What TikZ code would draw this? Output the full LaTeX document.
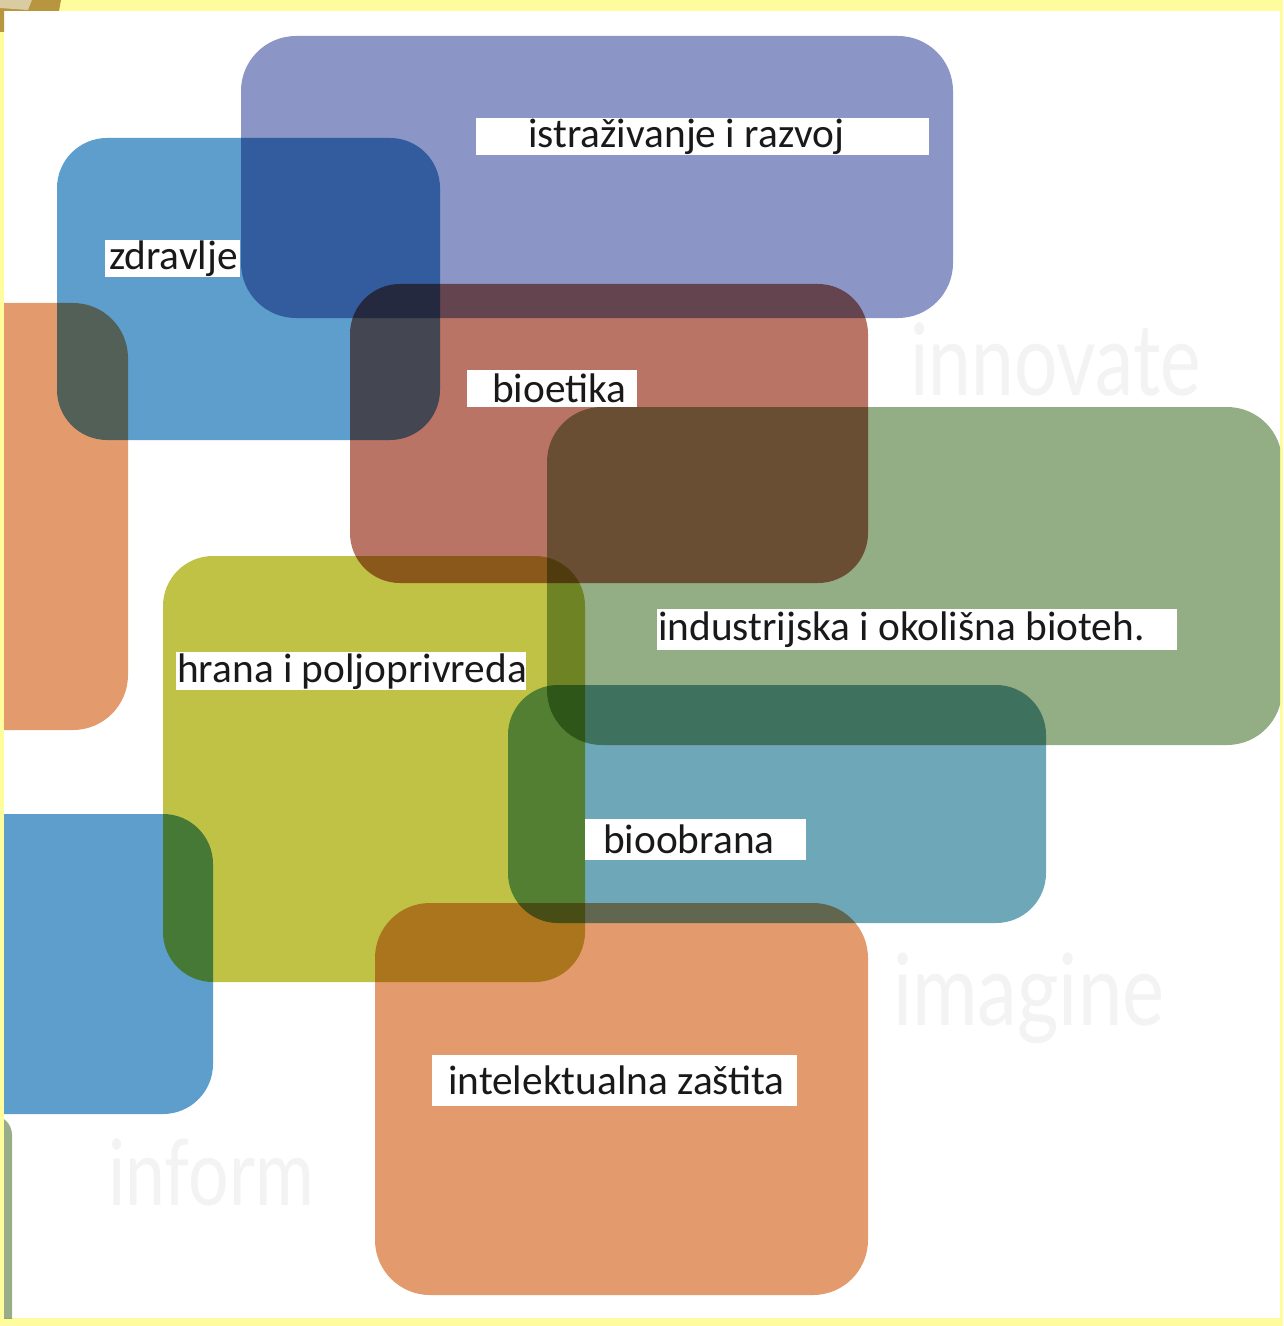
\documentclass[tikz,border=0pt]{standalone}
\usepackage{fontspec}
\setmainfont{Carlito}
\newfontfamily\markfont{Lato}
\definecolor{framecol}{HTML}{FEFC9C}
\definecolor{tanlight}{HTML}{D9CBA2}
\definecolor{tandark}{HTML}{B8963F}
\definecolor{purplecol}{HTML}{8B96C6}
\definecolor{bluecol}{HTML}{5E9ECC}
\definecolor{orangecol}{HTML}{E39B6E}
\definecolor{redcol}{HTML}{B97466}
\definecolor{greencol}{HTML}{93AD84}
\definecolor{olivecol}{HTML}{BFC244}
\definecolor{tealcol}{HTML}{6EA8B8}
\definecolor{slivercol}{HTML}{9AAD8A}
\definecolor{markcol}{HTML}{F3F3F3}
\newcommand\padtext[3]{\makebox[#1][l]{\hspace*{#2}#3}}
\tikzset{
  tag/.style={fill=white, inner sep=0pt, anchor=north west,
    font=\fontsize{41.5}{41.5}\selectfont, text=black!90},
  watermark/.style={anchor=base west, inner sep=0pt, text=markcol,
    font=\markfont\fontsize{100}{100}\selectfont},
}
\begin{document}
\begin{tikzpicture}[x=1bp,y=-1bp]
  \useasboundingbox (0,0) rectangle (1283,1326);
%%
  % Frame
  \fill[framecol] (0,0) rectangle (1283,1326);
  \fill[white] (4,11) rectangle (1280,1318);
  \fill[tandark] (0,0) -- (61,0) -- (59,11) -- (4,11) -- (4,32) -- (0,32) -- cycle;
  \fill[tanlight] (0,0) -- (32,0) -- (28,10) -- (0,8) -- cycle;
  % Watermarks
  \node[watermark, xscale=0.77] (innovate) at (910,395) {innovate};
  \node[watermark, xscale=0.80] (imagine) at (893,1025) {imagine};
  \node[watermark, xscale=0.78, font=\markfont\fontsize{92}{92}\selectfont] (inform) at (108,1205) {inform};
%%
\begin{scope}[blend mode=multiply]
  \clip (4,11) rectangle (1280,1318);
  % Box: istrazivanje i razvoj
  \fill[purplecol, rounded corners=55bp] (241,36) rectangle (953,318);
  % Box: zdravlje
  \fill[bluecol, rounded corners=50bp] (57,138) rectangle (440,440);
  % Box: left edge, top
  \fill[orangecol, rounded corners=55bp] (-100,303) rectangle (128,730);
  % Box: bioetika
  \fill[redcol, rounded corners=50bp] (350,284) rectangle (868,583);
  % Box: industrijska i okolisna bioteh.
  \fill[greencol, rounded corners=55bp] (547,407) rectangle (1282,745);
  % Box: hrana i poljoprivreda
  \fill[olivecol, rounded corners=50bp] (163,556) rectangle (585,982);
  % Box: bioobrana
  \fill[tealcol, rounded corners=50bp] (508,685) rectangle (1046,923);
  % Box: left edge, bottom
  \fill[bluecol, rounded corners=50bp] (-100,814) rectangle (213,1114);
  % Box: intelektualna zastita
  \fill[orangecol, rounded corners=55bp] (375,903) rectangle (868,1295);
  % Box: left edge, sliver
  \fill[slivercol, rounded corners=20bp] (-200,1115) rectangle (12,1400);
\end{scope}
%%
  % Node: istrazivanje
  \node[tag, minimum height=37bp] (razvoj) at (476,118) {\padtext{453bp}{52bp}{istraživanje i razvoj}};
  % Node: zdravlje
  \node[tag, minimum height=37bp] (zdravlje) at (105,240) {\padtext{135bp}{4bp}{zdravlje}};
  % Node: bioetika
  \node[tag, minimum height=37bp] (bioetika) at (467,370) {\padtext{170bp}{25bp}{bioetika}};
  % Node: industrijska
  \node[tag, minimum height=41bp] (industrija) at (657,609) {\padtext{520bp}{1bp}{industrijska i okolišna bioteh.}};
  % Node: hrana
  \node[tag, minimum height=38bp] (hrana) at (176,652) {\padtext{350bp}{1bp}{hrana i poljoprivreda}};
  % Node: bioobrana
  \node[tag, minimum height=41bp] (bioobrana) at (585,819) {\padtext{221bp}{18bp}{bioobrana}};
  % Node: intelektualna
  \node[tag, minimum height=51bp] (zastita) at (432,1055) {\padtext{365bp}{16bp}{intelektualna zaštita}};
%
\end{tikzpicture}
\end{document}
